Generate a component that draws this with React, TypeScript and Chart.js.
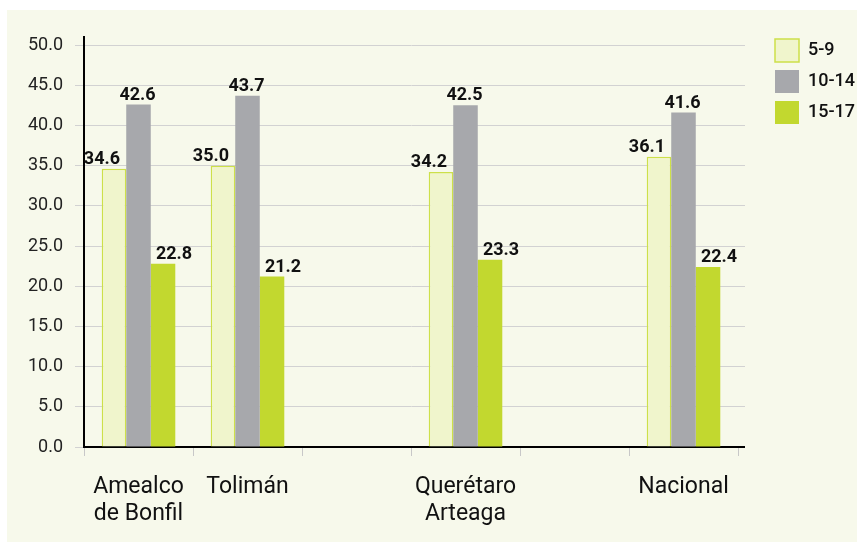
import React, { useEffect, useRef } from 'react';
import { Chart, registerables } from 'chart.js';

Chart.register(...registerables);

// ---- data ----
const categories: (string | string[])[] = [
  ['Amealco', 'de Bonfil'],
  'Tolimán',
  '',
  ['Querétaro', 'Arteaga'],
  '',
  'Nacional',
];
const seriesNames = ['5-9', '10-14', '15-17'];
const values5to9 = [34.6, 35.0, null, 34.2, null, 36.1];
const values10to14 = [42.6, 43.7, null, 42.5, null, 41.6];
const values15to17 = [22.8, 21.2, null, 23.3, null, 22.4];
const yMin = 0;
const yMax = 51;
const yStep = 5;

const FONT = 'Roboto';

const valueLabelsPlugin = {
  id: 'valueLabels',
  afterDatasetsDraw(chart: any) {
    const offsets = [-12, -1, 11];
    const ctx = chart.ctx;
    ctx.save();
    ctx.font = `bold 18px ${FONT}`;
    ctx.fillStyle = '#111111';
    ctx.textAlign = 'center';
    ctx.textBaseline = 'alphabetic';
    chart.data.datasets.forEach((ds: any, i: number) => {
      const meta = chart.getDatasetMeta(i);
      meta.data.forEach((el: any, j: number) => {
        const v = ds.data[j];
        if (v === null || v === undefined) return;
        ctx.fillText(Number(v).toFixed(1), el.x + offsets[i], el.y - 5);
      });
    });
    ctx.restore();
  },
};

const legendWidthPlugin = {
  id: 'legendWidth',
  beforeLayout(chart: any) {
    const lg = chart.legend;
    if (lg && !lg.__fixedWidth) {
      const orig = lg.fit.bind(lg);
      lg.fit = function () {
        orig();
        this.width = 90;
      };
      lg.__fixedWidth = true;
    }
  },
};

export default function App() {
  const canvasRef = useRef<HTMLCanvasElement | null>(null);

  useEffect(() => {
    if (!canvasRef.current) return;
    const chart = new Chart(canvasRef.current, {
      type: 'bar',
      data: {
        labels: categories as any,
        datasets: [
          {
            label: seriesNames[0],
            data: values5to9 as any,
            backgroundColor: '#f0f5cc',
            borderColor: '#cde04a',
            borderWidth: 1.5,
          },
          {
            label: seriesNames[1],
            data: values10to14 as any,
            backgroundColor: '#a7a8ac',
            borderWidth: 0,
          },
          {
            label: seriesNames[2],
            data: values15to17 as any,
            backgroundColor: '#c2d82f',
            borderWidth: 0,
          },
        ],
      },
      options: {
        animation: false,
        responsive: false,
        devicePixelRatio: 1,
        datasets: {
          bar: { barPercentage: 1, categoryPercentage: 0.675 },
        },
        layout: { padding: { left: 0, right: 0, top: 21, bottom: 0 } },
        plugins: {
          legend: {
            position: 'right',
            align: 'start',
            labels: {
              boxWidth: 24,
              boxHeight: 23,
              padding: 8,
              color: '#111111',
              font: { family: FONT, size: 18, weight: '500' },
            },
          },
          tooltip: { enabled: false },
        },
        scales: {
          x: {
            type: 'category',
            grid: {
              offset: true,
              drawOnChartArea: false,
              tickLength: 9,
              color: '#c8c8c8',
              lineWidth: 1,
            },
            border: { color: '#000000', width: 2 },
            ticks: {
              color: '#111111',
              font: { family: FONT, size: 23, lineHeight: 1.17 },
              padding: 18,
              maxRotation: 0,
              autoSkip: false,
            },
            afterFit: (s: any) => {
              s.height = 95;
              s.paddingLeft = 0;
              s.paddingRight = 0;
            },
          },
          y: {
            type: 'linear',
            min: yMin,
            max: yMax,
            ticks: {
              stepSize: yStep,
              includeBounds: false,
              padding: 12,
              color: '#222222',
              font: { family: FONT, size: 18 },
              callback: (v: any) => Number(v).toFixed(1),
            },
            grid: { color: '#d2d2d2', tickLength: 9, lineWidth: 1 },
            border: { color: '#000000', width: 2 },
            afterFit: (s: any) => {
              s.width = 77;
              s.paddingTop = 27;
            },
          },
          yR: {
            type: 'linear',
            position: 'right',
            min: yMin,
            max: yMax,
            ticks: { display: false, stepSize: yStep, includeBounds: false },
            grid: {
              drawOnChartArea: false,
              tickLength: 7,
              color: (c: any) => (c.tick && c.tick.value === 0 ? '#000000' : '#d2d2d2'),
              lineWidth: (c: any) => (c.tick && c.tick.value === 0 ? 2 : 1),
            },
            border: { display: false },
            afterFit: (s: any) => {
              s.width = 29;
            },
          },
        },
      } as any,
      plugins: [valueLabelsPlugin, legendWidthPlugin],
    });
    return () => chart.destroy();
  }, []);

  return (
    <div
      style={{
        position: 'absolute',
        left: 0,
        top: 0,
        width: 857,
        height: 542,
        background: '#ffffff',
        overflow: 'hidden',
      }}
    >
      <div
        style={{
          position: 'absolute',
          left: 7,
          top: 10,
          width: 850,
          height: 532,
          background: '#f7f9eb',
        }}
      >
        <canvas ref={canvasRef} width={850} height={532} style={{ display: 'block' }} />
      </div>
    </div>
  );
}
